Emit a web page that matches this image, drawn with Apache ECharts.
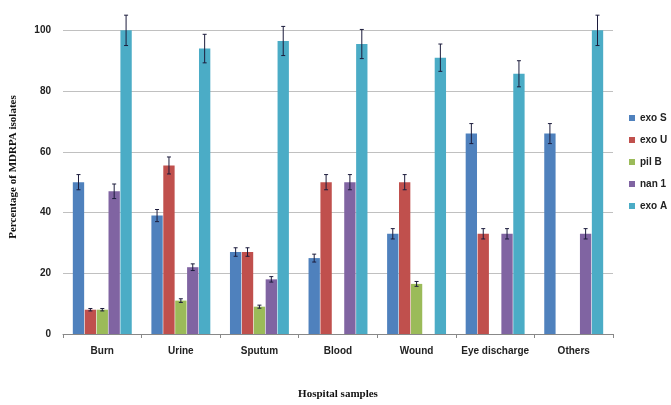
<!DOCTYPE html>
<html><head><meta charset="utf-8">
<script src="https://cdn.jsdelivr.net/npm/echarts@6/dist/echarts.min.js"></script>
<style>html,body{margin:0;padding:0;background:#fff}#c{width:671px;height:405px}</style>
</head><body><div id="c"></div>
<script>
var categories = ['Burn','Urine','Sputum','Blood','Wound','Eye discharge','Others'];
var seriesNames = ['exo S','exo U','pil B','nan 1','exo A'];
var exoS = [50, 39, 27, 25, 33, 66, 66];
var exoU = [8, 55.5, 27, 50, 50, 33, 0];
var pilB = [8, 11, 9, 0, 16.5, 0, 0];
var nan1 = [47, 22, 18, 50, 0, 33, 33];
var exoA = [100, 94, 96.5, 95.5, 91, 85.7, 100];
var errS = [2.5, 2, 1.4, 1.3, 1.7, 3.3, 3.3];
var errU = [0.4, 2.8, 1.4, 2.5, 2.5, 1.7, 0];
var errP = [0.4, 0.6, 0.5, 0, 0.8, 0, 0];
var errN = [2.4, 1.1, 0.9, 2.5, 0, 1.7, 1.7];
var errA = [5, 4.7, 4.8, 4.8, 4.5, 4.3, 5];
var yTicks = [0, 20, 40, 60, 80, 100];

var values = [exoS, exoU, pilB, nan1, exoA];
var errors = [errS, errU, errP, errN, errA];
var colors = ['#4F81BD','#C0504D','#9BBB59','#8064A2','#4BACC6'];
var catGap = 0.25, barGapR = 0.05;

var series = [];
values.forEach(function(v, i){
  series.push({
    name: seriesNames[i], type: 'bar', data: v,
    barCategoryGap: '25%', barGap: '5%',
    itemStyle: {color: colors[i]}
  });
});
values.forEach(function(v, i){
  var data = v.map(function(val, k){ return [k, val, errors[i][k]]; });
  series.push({
    type: 'custom', name: seriesNames[i] + ' err', silent: true, z: 10,
    data: data, encode: {x: 0, y: 1},
    renderItem: function(params, api){
      var k = api.value(0), val = api.value(1), e = api.value(2);
      if (val === 0 && e === 0) return null;
      var cw = api.size([1, 0])[0];
      var w = cw * (1 - catGap) / (5 + 4 * barGapR);
      var off = -cw * (1 - catGap) / 2 + w / 2 + i * w * (1 + barGapR);
      var top = api.coord([k, val + e]);
      var bot = api.coord([k, val - e]);
      var x = top[0] + off;
      var st = {stroke: '#1c1c3c', lineWidth: 1};
      return {type: 'group', children: [
        {type: 'line', shape: {x1: x, y1: top[1], x2: x, y2: bot[1]}, style: st},
        {type: 'line', shape: {x1: x - 2, y1: top[1], x2: x + 2, y2: top[1]}, style: st},
        {type: 'line', shape: {x1: x - 2, y1: bot[1], x2: x + 2, y2: bot[1]}, style: st}
      ]};
    }
  });
});

var gridColors = yTicks.map(function(){ return '#c0c0c0'; }).concat(['rgba(0,0,0,0)']);

var chart = echarts.init(document.getElementById('c'));
chart.setOption({
  animation: false,
  color: colors,
  legend: {
    data: seriesNames, orient: 'vertical', left: 624, top: 108,
    icon: 'rect', itemWidth: 6, itemHeight: 6, itemGap: 12,
    textStyle: {fontFamily: 'Liberation Sans', fontSize: 10, fontWeight: 'bold', color: '#222'}
  },
  grid: {left: 62, right: 58, top: -1, bottom: 71},
  xAxis: {
    type: 'category', data: categories,
    name: 'Hospital samples', nameLocation: 'middle', nameGap: 55,
    nameTextStyle: {fontFamily: 'Liberation Serif', fontWeight: 'bold', fontSize: 11, color: '#111'},
    axisLine: {lineStyle: {color: '#888'}},
    axisTick: {show: true, lineStyle: {color: '#888'}, length: 4},
    axisLabel: {interval: 0, fontFamily: 'Liberation Sans', fontSize: 10, fontWeight: 'bold', color: '#222', margin: 12}
  },
  yAxis: {
    type: 'value', min: 0, max: 110, interval: 20,
    name: 'Percentage of MDRPA isolates', nameLocation: 'middle', nameGap: 44,
    nameTextStyle: {fontFamily: 'Liberation Serif', fontWeight: 'bold', fontSize: 11, color: '#111'},
    axisLine: {show: false},
    axisTick: {show: false},
    splitLine: {lineStyle: {color: gridColors}},
    axisLabel: {
      fontFamily: 'Liberation Sans', fontSize: 10, fontWeight: 'bold', color: '#222', margin: 12,
      showMaxLabel: false,
      formatter: function(v){ return yTicks.indexOf(v) >= 0 ? String(v) : ''; }
    }
  },
  series: series
});
</script></body></html>
